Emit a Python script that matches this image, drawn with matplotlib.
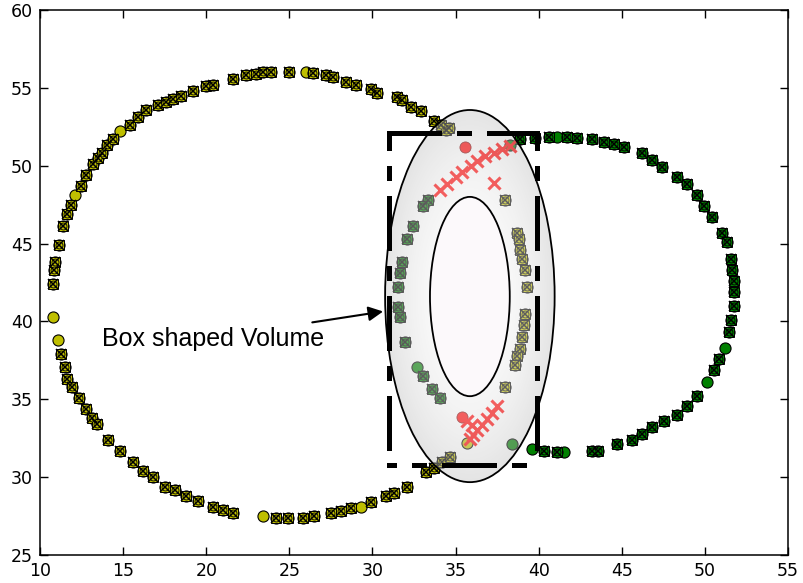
import numpy as np
import matplotlib
matplotlib.use("Agg")
import matplotlib.pyplot as plt
from matplotlib.patches import Ellipse

# points picked up on the left (yellow) ring
yel_x = [10.78, 10.8, 10.85, 10.9, 11.15, 11.4, 11.6, 11.85, 12.1, 12.45, 12.75, 13.2, 13.5, 13.7,
         14.0, 14.4, 14.8, 15.4, 15.9, 16.4, 17.1, 17.6, 18.0, 18.5, 19.2, 20.0, 20.4, 21.6, 22.4,
         23.0, 23.4, 23.9, 25.0, 26.0, 26.4, 27.2, 27.6, 28.4, 29.0, 29.9, 30.3, 31.5, 31.8, 32.3,
         32.9, 33.7, 34.1, 34.4, 34.6,
         11.1, 11.25, 11.5, 11.6, 11.9, 12.35, 12.75, 13.1, 13.4, 14.1, 14.8, 15.6, 16.2, 16.8,
         17.5, 18.1, 18.8, 19.5, 20.4, 21.0, 21.6, 23.4, 24.2, 24.9, 25.8, 26.5, 27.5, 28.1, 28.7,
         29.3, 29.9, 30.8, 31.3, 32.1, 33.2, 33.7, 34.2, 34.65, 35.7,
         37.95, 38.7, 38.8, 38.9, 39.0, 39.15, 39.3, 39.15, 39.1, 39.0, 38.85, 38.7, 38.6, 37.95]
yel_y = [40.3, 42.4, 43.3, 43.8, 44.9, 46.1, 46.9, 47.5, 48.1, 48.7, 49.4, 50.1, 50.5, 50.8,
         51.3, 51.7, 52.2, 52.6, 53.1, 53.6, 53.9, 54.1, 54.3, 54.5, 54.8, 55.1, 55.2, 55.6, 55.8,
         55.9, 56.0, 56.0, 56.0, 56.0, 55.95, 55.8, 55.7, 55.4, 55.2, 54.9, 54.7, 54.4, 54.2, 53.8,
         53.5, 52.9, 52.6, 52.3, 52.4,
         38.8, 37.9, 37.1, 36.3, 35.8, 35.1, 34.4, 33.8, 33.4, 32.4, 31.7, 31.0, 30.4, 30.0,
         29.4, 29.2, 28.8, 28.5, 28.1, 27.9, 27.7, 27.5, 27.4, 27.4, 27.4, 27.5, 27.7, 27.8, 28.0,
         28.1, 28.4, 28.8, 29.0, 29.4, 30.3, 30.6, 31.0, 31.3, 32.2,
         47.8, 45.7, 45.3, 44.6, 44.0, 43.3, 42.2, 40.45, 39.8, 39.0, 38.2, 37.8, 37.2, 35.8]
yel_plain = [0, 8, 16, 33, 49, 70, 78, 87]

# points picked up on the right (green) ring
grn_x = [38.85, 39.75, 40.65, 41.1, 41.7, 42.3, 43.2, 43.95, 44.55, 45.15, 46.2, 46.8, 47.4, 48.3,
         48.9, 49.5, 49.95, 50.4, 51.0, 51.3, 51.6, 51.65, 51.75, 51.75, 51.75, 51.6, 51.45, 51.2,
         50.85, 50.55, 50.1, 49.5, 48.9, 48.3, 47.55, 46.8, 46.2, 45.6, 44.7, 43.55, 43.2, 41.55,
         41.1, 40.35, 39.6, 38.4,
         38.3, 33.35, 33.05, 32.45, 32.1, 31.8, 31.65, 31.55, 31.55, 31.65, 31.95, 32.7, 33.05,
         33.6, 34.05]
grn_y = [51.7, 51.8, 51.86, 51.86, 51.86, 51.8, 51.7, 51.5, 51.4, 51.2, 50.8, 50.4, 49.9, 49.3,
         48.8, 48.1, 47.4, 46.7, 45.7, 45.1, 44.0, 43.3, 42.6, 41.9, 41.0, 40.1, 39.3, 38.3,
         37.6, 36.9, 36.1, 35.2, 34.55, 34.0, 33.6, 33.2, 32.75, 32.4, 32.1, 31.7, 31.7, 31.6,
         31.6, 31.7, 31.8, 32.1,
         51.3, 47.8, 47.4, 46.1, 45.3, 43.8, 43.1, 42.2, 40.96, 40.3, 38.7, 37.1, 36.5,
         35.65, 35.1]
grn_plain = [3, 27, 30, 41, 44, 45, 46, 57]

# points where the two rings cross
red_x = [34.05, 34.5, 35.0, 35.4, 35.9, 36.3, 36.8, 37.3, 37.8, 38.25, 37.3,
         37.5, 37.2, 36.9, 36.6, 36.3, 36.05, 35.85, 35.7, 36.0]
red_y = [48.45, 48.85, 49.3, 49.6, 50.0, 50.3, 50.6, 50.85, 51.05, 51.25, 48.9,
         34.55, 34.15, 33.75, 33.35, 33.0, 32.7, 32.45, 33.6, 33.35]
red_dot_x = [35.55, 35.4]
red_dot_y = [51.2, 33.85]

# selection volume
box_x0, box_x1 = 31.0, 39.9
box_y0, box_y1 = 30.8, 52.1
outer_c, outer_w, outer_h = (35.86, 41.63), 10.2, 23.9
inner_c, inner_w, inner_h = (35.86, 41.6), 4.8, 12.8

fig = plt.figure(figsize=(8.04, 5.83), dpi=100)
ax = fig.add_axes([0.0498, 0.048, 0.9303, 0.9348])


def ring(xs, ys, plain, color):
    xs = np.array(xs)
    ys = np.array(ys)
    ax.plot(xs, ys, 'o', ms=8, mfc=color, mec='k', mew=0.8, zorder=2)
    mask = np.ones(len(xs), bool)
    mask[plain] = False
    ax.plot(xs[mask], ys[mask], 's', ms=7, mfc=color, mec='k', mew=0.7, zorder=2)
    ax.plot(xs[mask], ys[mask], 'o', ms=5, mfc=color, mec='k', mew=0.6, zorder=2)
    ax.plot(xs[mask], ys[mask], 'x', ms=7, color='k', mew=1.1, zorder=2)


ring(yel_x, yel_y, yel_plain, '#bfbf00')
ring(grn_x, grn_y, grn_plain, '#008000')
ax.plot(red_dot_x, red_dot_y, 'o', ms=8, mfc='r', mec='#800000', mew=0.6, zorder=2)
ax.plot(red_x, red_y, 'x', ms=8, color='r', mew=2.2, zorder=2)

# shaded ellipsoid over the points
u = np.linspace(-1, 1, 120)
v = np.linspace(-1, 1, 240)
U, V = np.meshgrid(u, v)
g = np.clip(0.99 - 0.24 * (U ** 2 + V ** 2), 0, 1)
rgba = np.dstack([g, g, g, np.full_like(g, 0.42)])
ext = [outer_c[0] - outer_w / 2, outer_c[0] + outer_w / 2,
       outer_c[1] - outer_h / 2, outer_c[1] + outer_h / 2]
im = ax.imshow(rgba, extent=ext, origin='lower', aspect='auto', zorder=3, interpolation='bilinear')
outer = Ellipse(outer_c, outer_w, outer_h, fc='none', ec='k', lw=1.3, zorder=4)
ax.add_patch(outer)
im.set_clip_path(outer)
ax.add_patch(Ellipse(inner_c, inner_w, inner_h, fc='#fcf9fb', ec='k', lw=1.3, zorder=4))

# dash-dot box, one edge at a time
pattern = (10, 4, 2, 4)
edges = [([box_x0, box_x1], [box_y1, box_y1], 0),
         ([box_x0, box_x0], [box_y1, box_y0], 7),
         ([box_x1, box_x1], [box_y1, box_y0], 7),
         ([box_x0, box_x1], [box_y0, box_y0], 9)]
for ex, ey, off in edges:
    ax.plot(ex, ey, color='k', lw=3.6, linestyle=(off, pattern),
            dash_capstyle='projecting', zorder=5)

ax.text(13.72, 38.9, 'Box shaped Volume', fontsize=18, family='Liberation Sans',
        ha='left', va='center', zorder=6)
ax.annotate('', xy=(30.64, 40.64), xytext=(26.38, 39.94),
            arrowprops=dict(arrowstyle='-|>', color='k', lw=1.5, mutation_scale=22,
                            shrinkA=0, shrinkB=0), zorder=6)

ax.set_xlim(10, 55)
ax.set_ylim(25, 60)
ax.set_xticks(np.arange(10, 56, 5))
ax.set_yticks(np.arange(25, 61, 5))
ax.tick_params(direction='in', top=True, right=True, length=6, width=1, labelsize=12.5, pad=5)
for s in ax.spines.values():
    s.set_linewidth(1.1)

fig.savefig('out.png', dpi=100, facecolor='white')
